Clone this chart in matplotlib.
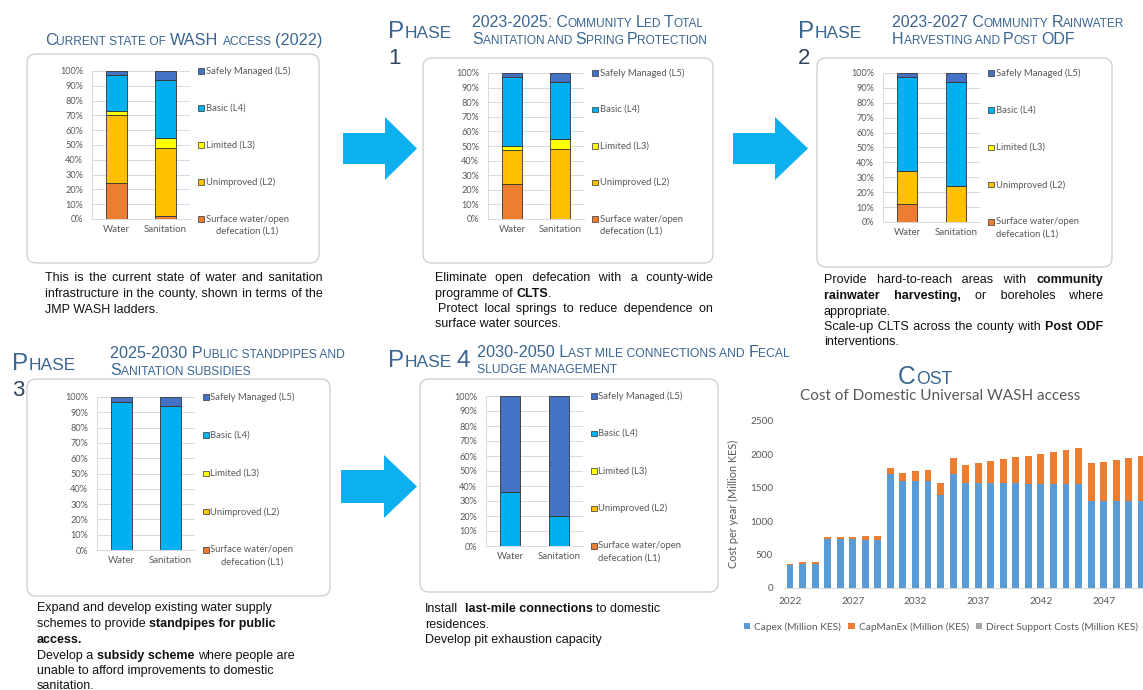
import matplotlib
matplotlib.use("Agg")
import matplotlib.pyplot as plt
from matplotlib.patches import FancyBboxPatch, Polygon, Rectangle
from matplotlib.font_manager import FontProperties
import numpy as np

W, H = 1143, 690

# ---------------- data ----------------
categories = ["Water", "Sanitation"]
levels = ["Surface water/open\ndefecation (L1)", "Unimproved (L2)", "Limited (L3)",
          "Basic (L4)", "Safely Managed (L5)"]
level_colors = ["#ED7D31", "#FFC000", "#FFFF00", "#00B0F0", "#4472C4"]

current_water = [24, 46, 3, 24, 3]
current_sanitation = [2, 46, 7, 39, 6]
phase1_water = [24, 23, 3, 47, 3]
phase1_sanitation = [0, 48, 7, 39, 6]
phase2_water = [12, 22, 0, 63, 3]
phase2_sanitation = [0, 24, 0, 70, 6]
phase3_water = [0, 0, 0, 97, 3]
phase3_sanitation = [0, 0, 0, 94, 6]
phase4_water = [0, 0, 0, 36, 64]
phase4_sanitation = [0, 0, 0, 20, 80]

pct_ticks = [0, 10, 20, 30, 40, 50, 60, 70, 80, 90, 100]
pct_labels = ["0%", "10%", "20%", "30%", "40%", "50%", "60%", "70%", "80%", "90%", "100%"]

cost_years = [2022, 2023, 2024, 2025, 2026, 2027, 2028, 2029, 2030, 2031, 2032, 2033,
              2034, 2035, 2036, 2037, 2038, 2039, 2040, 2041, 2042, 2043, 2044, 2045,
              2046, 2047, 2048, 2049, 2050]
capex = [338, 358, 360, 725, 725, 725, 712, 710, 1700, 1602, 1602, 1602,
         1385, 1712, 1572, 1572, 1572, 1572, 1570, 1555, 1555, 1555, 1555, 1555,
         1302, 1302, 1302, 1302, 1302]
capmanex = [17, 30, 32, 30, 30, 40, 60, 62, 90, 120, 148, 170,
            188, 228, 265, 298, 330, 360, 390, 425, 447, 485, 515, 545,
            565, 590, 620, 650, 670]
direct_support = [0, 0, 0, 0, 0, 0, 0, 0, 0, 0, 0, 0, 0, 0, 0, 0, 0, 0, 0, 0,
                  0, 0, 0, 0, 0, 0, 0, 0, 0]
cost_series = ["Capex (Million KES)", "CapManEx (Million (KES)", "Direct Support Costs (Million KES)"]
cost_colors = ["#5B9BD5", "#ED7D31", "#A5A5A5"]
cost_xticks = [2022, 2027, 2032, 2037, 2042, 2047]
cost_yticks = [0, 500, 1000, 1500, 2000, 2500]

# ---------------- fonts / colours ----------------
BODY = ["Liberation Sans", "DejaVu Sans"]
HEAD = "Liberation Sans"
CHART = "Lato"
HEAD_COL = "#3A6591"
NUM_COL = "#2D4560"
GRAY = "#595959"
ARROW = "#0DB0EE"
HAIR = "\u200a"

fig = plt.figure(figsize=(W / 100, H / 100), dpi=100)
bg = fig.add_axes([0, 0, 1, 1], zorder=0)
bg.set_xlim(0, W)
bg.set_ylim(H, 0)
bg.axis("off")
renderer = fig.canvas.get_renderer()


def text_w(s, size, weight="normal", family=BODY):
    fp = FontProperties(family=family, size=size, weight=weight)
    w1 = renderer.get_text_width_height_descent("|" + s + "|", fp, ismath=False)[0]
    w0 = renderer.get_text_width_height_descent("||", fp, ismath=False)[0]
    return w1 - w0


def sc_runs(text, big, small):
    runs = []
    for ch in text:
        if ch == " ":
            s = runs[-1][1] if runs else small
            c = ch
        elif ch.islower():
            c, s = ch.upper(), small
        else:
            c, s = ch, big
        if runs and runs[-1][1] == s:
            runs[-1][0] += c
        else:
            runs.append([c, s])
    return runs


def smallcaps(x, y, text, big, small, color=HEAD_COL, ha="left", fit=None, family=HEAD):
    runs = sc_runs(text, big, small)
    total = sum(text_w(r, s, family=family) for r, s in runs)
    if fit:
        f = fit / total
        big, small = big * f, small * f
        runs = sc_runs(text, big, small)
        total = sum(text_w(r, s, family=family) for r, s in runs)
    if ha == "center":
        x -= total / 2
    for r, s in runs:
        stripped = r.lstrip(" ")
        lead = len(r) - len(stripped)
        xx = x + (text_w(" " * lead, s, family=family) if lead else 0)
        if stripped.strip():
            bg.text(xx, y, stripped.rstrip(" "), fontsize=s, family=family, color=color,
                    va="baseline", ha="left")
        x += text_w(r, s, family=family)
    return big, small


def segments(line):
    parts = line.split("**")
    return [(p, i % 2 == 1) for i, p in enumerate(parts) if p]


def parse_words(line):
    words, cur = [], []
    for txt, b in segments(line):
        pieces = txt.split(" ")
        for j, p in enumerate(pieces):
            if j > 0 and cur:
                words.append(cur)
                cur = []
            if p:
                cur.append((p, b))
    if cur:
        words.append(cur)
    return words, line.startswith(" ")


def put(x, y, s, size, wt, color):
    bg.text(x, y, s, fontsize=size, weight=wt, family=BODY, color=color,
            va="baseline", ha="left")


def rich_line(x0, y, line, size=9, width=None, justify=False, color="#111111"):
    if not justify:
        x = x0
        for txt, b in segments(line):
            wt = "bold" if b else "normal"
            stripped = txt.lstrip(" ")
            lead = len(txt) - len(stripped)
            xx = x + (text_w(" " * lead, size, wt) if lead else 0)
            if stripped.strip():
                put(xx, y, stripped.rstrip(" "), size, wt, color)
            x += text_w(txt, size, wt)
        return
    words, lead = parse_words(line)
    ww = [sum(text_w(p, size, "bold" if b else "normal") for p, b in w) for w in words]
    x = x0 + (text_w(" ", size) if lead else 0)
    gap = (x0 + width - x - sum(ww)) / (len(words) - 1)
    starts = []
    for wl in ww:
        starts.append(x)
        x += wl + gap
    runs = []
    for i, w in enumerate(words):
        wts = {b for _, b in w}
        uni = len(wts) == 1
        b = next(iter(wts))
        if uni and runs and runs[-1][2] and runs[-1][1] == b:
            runs[-1][0].append(i)
        else:
            runs.append([[i], b, uni])
    for idxs, b, uni in runs:
        if not uni:
            xx = starts[idxs[0]]
            for p, bb in words[idxs[0]]:
                wt = "bold" if bb else "normal"
                put(xx, y, p, size, wt, color)
                xx += text_w(p, size, wt)
            continue
        wt = "bold" if b else "normal"
        spw = text_w(" ", size, wt)
        hw = text_w(HAIR, size, wt)
        x_start = starts[idxs[0]]
        s = "".join(p for p, _ in words[idxs[0]])
        for j in idxs[1:]:
            cur_end = x_start + text_w(s, size, wt)
            need = starts[j] - cur_end
            k = max(0, int(round((need - spw) / hw))) if hw > 0 else 0
            s += " " + HAIR * k + "".join(p for p, _ in words[j])
        put(x_start, y, s, size, wt, color)


def paragraph(x0, width, baselines, lines, justified):
    for y, ln, j in zip(baselines, lines, justified):
        rich_line(x0, y, ln, width=width, justify=j)


def box(l, t, r, b):
    bg.add_patch(FancyBboxPatch((l, t), r - l, b - t, boxstyle="round,pad=0,rounding_size=9",
                                fc="white", ec="#D0D0D0", lw=1.0, zorder=1))


def arrow(x0, xs, xt, ymid, shaft_h, head_h):
    pts = [(x0, ymid - shaft_h / 2), (xs, ymid - shaft_h / 2), (xs, ymid - head_h / 2),
           (xt, ymid), (xs, ymid + head_h / 2), (xs, ymid + shaft_h / 2), (x0, ymid + shaft_h / 2)]
    bg.add_patch(Polygon(pts, closed=True, fc=ARROW, ec="none", zorder=1))


LEG_FS = 6.8


def stacked_panel(l, r, t, b, water, sanitation, legend_center=False):
    ax = fig.add_axes([l / W, 1 - b / H, (r - l) / W, (b - t) / H], zorder=2)
    ax.set_facecolor("none")
    x = np.arange(len(categories))
    bottoms = np.zeros(len(categories))
    for i in range(len(levels)):
        vals = np.array([water[i], sanitation[i]], dtype=float)
        ax.bar(x, vals, 0.41, bottom=bottoms, color=level_colors[i],
               edgecolor="#333333", linewidth=np.where(vals > 0, 0.6, 0.0), zorder=3)
        bottoms += vals
    ax.set_xlim(-0.5, 1.5)
    ax.set_ylim(0, 100)
    ax.set_yticks(pct_ticks)
    ax.set_yticklabels(pct_labels)
    ax.set_xticks(x)
    ax.set_xticklabels(categories)
    ax.yaxis.grid(True, color="#D9D9D9", lw=0.7, zorder=0)
    ax.set_axisbelow(True)
    for s in ("top", "right"):
        ax.spines[s].set_visible(False)
    for s in ("left", "bottom"):
        ax.spines[s].set_color("#D9D9D9")
        ax.spines[s].set_linewidth(0.7)
    ax.tick_params(axis="y", length=0, pad=6.5, labelsize=6.6, labelcolor=GRAY)
    ax.tick_params(axis="x", length=0, pad=4.5, labelsize=7.0, labelcolor=GRAY)
    for lab in ax.get_xticklabels() + ax.get_yticklabels():
        lab.set_family(CHART)
    order = list(range(len(levels)))[::-1]
    for k, i in enumerate(order):
        yc = t + (b - t) * k / (len(levels) - 1)
        mx = r + 8
        bg.add_patch(Rectangle((mx, yc - 2.8), 5.5, 5.5, fc=level_colors[i], ec="#333333",
                               lw=0.5, zorder=3))
        lines = levels[i].split("\n")
        bg.text(mx + 7.5, yc, lines[0], fontsize=LEG_FS, family=CHART, color=GRAY,
                va="center", ha="left", zorder=3)
        if len(lines) > 1:
            if legend_center:
                w0 = text_w(lines[0], LEG_FS, family=CHART)
                bg.text(mx + 7.5 + w0 / 2, yc + 12, lines[1], fontsize=LEG_FS, family=CHART,
                        color=GRAY, va="center", ha="center", zorder=3)
            else:
                bg.text(mx + 7.5, yc + 12, lines[1], fontsize=LEG_FS, family=CHART, color=GRAY,
                        va="center", ha="left", zorder=3)
    return ax


# ---------------- boxes ----------------
box(27, 54, 319, 263)
box(423, 58, 713, 263)
box(817, 58, 1112, 267)
box(27, 379, 330, 596)
box(420, 379, 718, 592)

# ---------------- arrows ----------------
arrow(343, 385, 417, 148.5, 31, 63)
arrow(733, 775, 808, 148.5, 31, 63)
arrow(341, 384, 417, 486.5, 33, 63)

# ---------------- stacked charts ----------------
stacked_panel(92, 190, 71, 219, current_water, current_sanitation, legend_center=True)
stacked_panel(488, 584, 73, 219, phase1_water, phase1_sanitation)
stacked_panel(883, 980, 73, 222, phase2_water, phase2_sanitation)
stacked_panel(97, 195, 397, 550, phase3_water, phase3_sanitation, legend_center=True)
stacked_panel(486, 583, 396, 546, phase4_water, phase4_sanitation)

# ---------------- headings ----------------
smallcaps(183.5, 45, "Current state of WASH access (2022)", 15, 11, fit=277, ha="center")

for px, py, num in [(388, 38, "1"), (798, 38, "2"), (12, 370, "3")]:
    smallcaps(px, py, "Phase", 17.5, 12.5)
    bg.text(px, py + 26, num, fontsize=16, family=HEAD, color=NUM_COL, va="baseline")
bs, ss = smallcaps(388, 367, "Phase", 17.5, 12.5)
bg.text(388 + text_w("P", bs, family=HEAD) + text_w("HASE ", ss, family=HEAD), 367, "4",
        fontsize=bs, family=HEAD, color=HEAD_COL, va="baseline")

b1, s1 = smallcaps(472, 27, "2023-2025: Community Led Total", 11, 8.2, fit=231)
smallcaps(472, 44.5, "Sanitation and Spring Protection", b1, s1)
b2, s2 = smallcaps(892, 27, "2023-2027 Community Rainwater", 11, 8.2, fit=233)
smallcaps(892, 43.5, "Harvesting and Post ODF", b2, s2)
b3, s3 = smallcaps(110, 358.5, "2025-2030 Public standpipes and", 11, 8.2, fit=233)
smallcaps(110, 375, "Sanitation subsidies", b3, s3)
b4, s4 = smallcaps(477, 357, "2030-2050 Last mile connections and Fecal", 11, 8.2, fit=310)
smallcaps(477, 373, "sludge management", b4, s4)

smallcaps(925, 384, "Cost", 16, 11.5, fit=54, ha="center")
bg.text(940, 396, "Cost of Domestic Universal WASH access", fontsize=11, family=CHART,
        color=GRAY, ha="center", va="center")

# ---------------- paragraphs ----------------
paragraph(45, 278, [281, 297, 313],
          ["This is the current state of water and sanitation",
           "infrastructure in the county, shown in terms of the",
           "JMP WASH ladders."],
          [True, True, False])
paragraph(435, 278, [281, 297, 312, 327],
          ["Eliminate open defecation with a county-wide",
           "programme of **CLTS**.",
           " Protect local springs to reduce dependence on",
           "surface water sources."],
          [True, False, True, False])
paragraph(824, 279, [283, 299, 315, 330, 345],
          ["Provide hard-to-reach areas with **community**",
           "**rainwater harvesting,** or boreholes where",
           "appropriate.",
           "Scale-up CLTS across the county with **Post ODF**",
           "interventions."],
          [True, True, False, True, False])
paragraph(37, 300, [611.5, 627.5, 643, 658.5, 674, 689],
          ["Expand and develop existing water supply",
           "schemes to provide **standpipes for public**",
           "**access.**",
           "Develop a **subsidy scheme** where people are",
           "unable to afford improvements to domestic",
           "sanitation."],
          [False] * 6)
paragraph(425, 300, [611.5, 627.5, 642.5],
          ["Install  **last-mile connections** to domestic",
           "residences.",
           "Develop pit exhaustion capacity"],
          [False] * 3)

# ---------------- cost chart ----------------
cl, cr, ct, cb = 783.7, 1147.6, 421, 587.7
cax = fig.add_axes([cl / W, 1 - cb / H, (cr - cl) / W, (cb - ct) / H], zorder=2)
cax.set_facecolor("none")
yrs = np.array(cost_years)
b0 = np.zeros(len(yrs))
handles = []
for vals, col, lab in zip([capex, capmanex, direct_support], cost_colors, cost_series):
    v = np.array(vals, dtype=float)
    h = cax.bar(yrs, v, 0.55, bottom=b0, color=col, label=lab, zorder=3)
    handles.append(h)
    b0 += v
cax.set_xlim(2021.5, 2050.5)
cax.set_ylim(0, 2500)
cax.set_xticks(cost_xticks)
cax.set_yticks(cost_yticks)
for s in ("top", "right", "left"):
    cax.spines[s].set_visible(False)
cax.spines["bottom"].set_color("#D9D9D9")
cax.spines["bottom"].set_linewidth(0.8)
cax.tick_params(axis="y", length=0, pad=7.5, labelsize=7.2, labelcolor=GRAY)
cax.tick_params(axis="x", length=0, pad=6.5, labelsize=7.2, labelcolor=GRAY)
for lab in cax.get_xticklabels() + cax.get_yticklabels():
    lab.set_family(CHART)
cax.set_ylabel("Cost per year (Million KES)", fontsize=7.8, family=CHART, color=GRAY)
cax.yaxis.set_label_coords((739 - cl) / (cr - cl), (cb - 504) / (cb - ct))

leg = fig.legend(handles, cost_series, loc="center left",
                 bbox_to_anchor=(744 / W, 1 - 627 / H), ncol=3, frameon=False,
                 handlelength=0.6, handleheight=0.6, handletextpad=0.4, columnspacing=0.75,
                 borderaxespad=0, borderpad=0,
                 prop=FontProperties(family=CHART, size=7.25))
for t in leg.get_texts():
    t.set_color(GRAY)

fig.savefig("out.png", dpi=100)
